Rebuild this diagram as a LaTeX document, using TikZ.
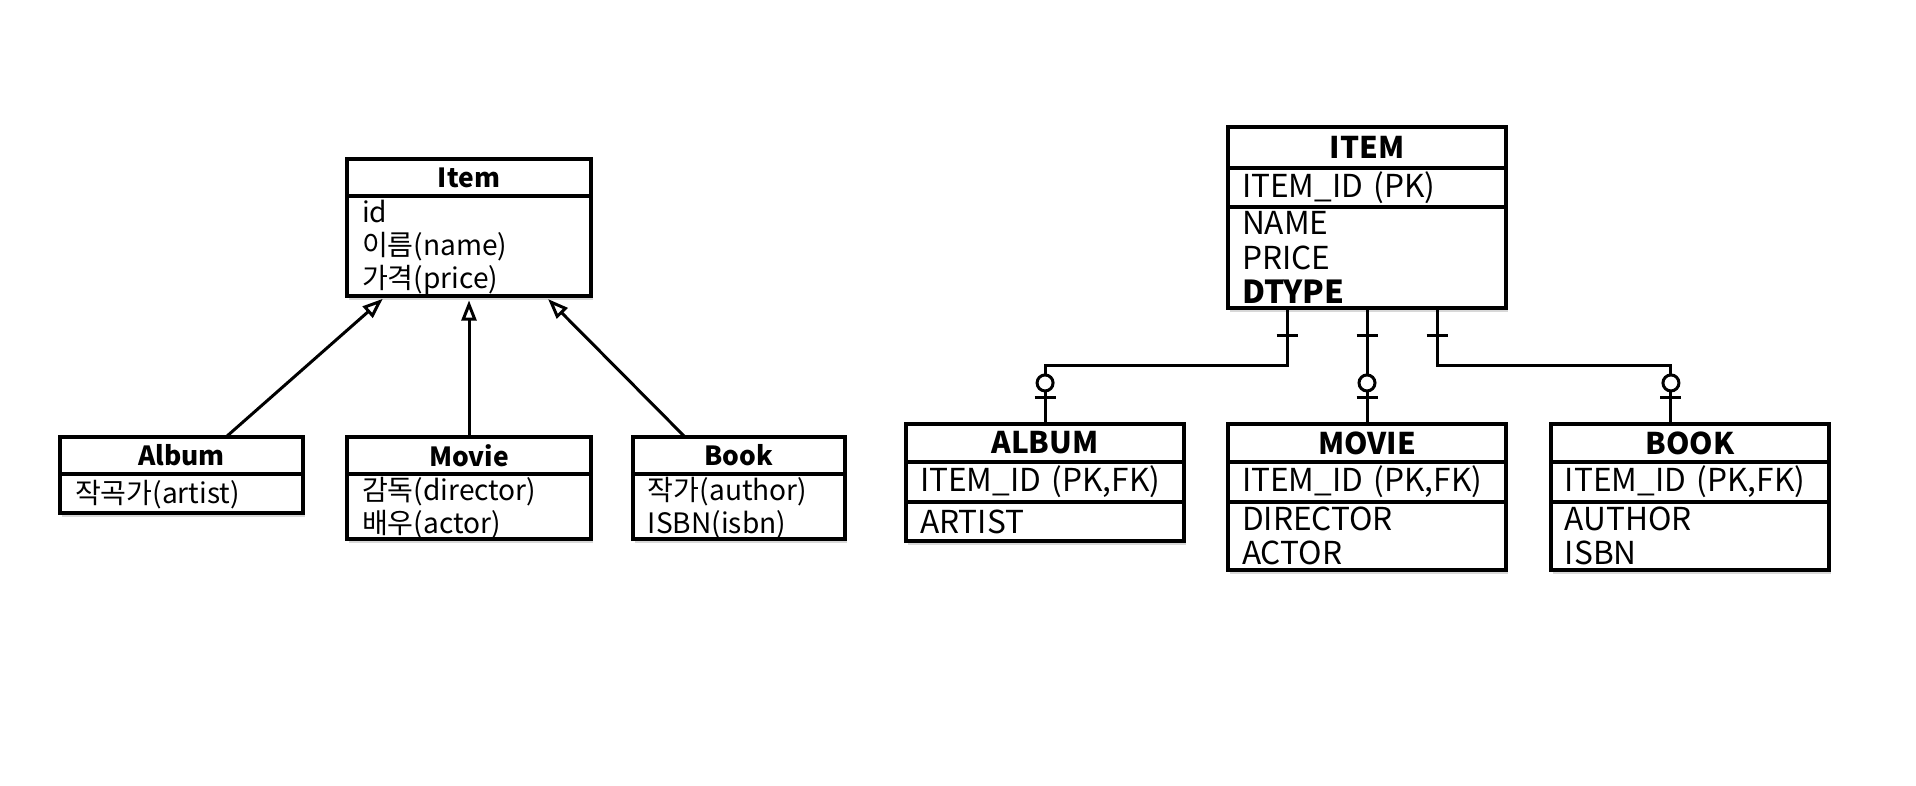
\documentclass[tikz,border=0pt]{standalone}
\usepackage{fontspec}
\setmainfont{Noto Sans CJK KR}
\usepackage{tikz}
\usetikzlibrary{
  arrows.meta,
  positioning,
  calc,
  shadows,
  decorations.markings
}
\tikzset{
  box/.style={
    draw, fill=white, line width=2pt, outer sep=0pt, inner sep=0pt,
    drop shadow={opacity=0.3, shadow xshift=1pt, shadow yshift=-2.5pt}
  },
  cls/.style={box, minimum height=0.74cm, font=\fontsize{15}{18}\selectfont\bfseries},
  clsattr/.style={box, inner xsep=0.3cm, align=left, font=\fontsize{16}{18.8}\selectfont,
    execute at begin node={\rule{0pt}{15pt}}},
  tbl/.style={box, minimum height=0.76cm, font=\fontsize{17}{20}\selectfont\bfseries},
  tblattr/.style={box, inner xsep=0.28cm, align=left, font=\fontsize{18}{19.4}\selectfont},
  inherit/.style={-{Triangle[open, length=11.5pt, width=8.5pt]}, line width=1.7pt, shorten >=2.5pt},
  relline/.style={line width=1.7pt},
  onebar/.style={postaction={decorate, decoration={markings,
    mark=at position 0.56cm with {\draw[line width=1.7pt] (0,-0.21cm) -- (0,0.21cm);}}}},
  zeroone/.style={postaction={decorate, decoration={markings,
    mark=at position -0.82cm with {\draw[line width=1.7pt, fill=white] (0,0) circle (0.16cm);},
    mark=at position -0.52cm with {\draw[line width=1.7pt] (0,-0.21cm) -- (0,0.21cm);}}}}
}

\begin{document}
\begin{tikzpicture}[x=0.02cm, y=-0.02cm]
  \useasboundingbox (0,0) rectangle (1916,786);
  \fill[white] (0,0) rectangle (1916,786);
  % class diagram
  \node[cls, minimum width=4.88cm, anchor=north] (item) at (469,159) {Item};
  \node[clsattr, text width=4.28cm, minimum height=2.0cm, below=0pt of item] (item-attr)
    {id\\이름(name)\\가격(price)};
  \node[cls, minimum width=4.88cm, below=2.82cm of item-attr] (movie) {Movie};
  \node[clsattr, text width=4.28cm, minimum height=1.3cm, below=0pt of movie] (movie-attr)
    {감독(director)\\배우(actor)};
  \node[cls, minimum width=4.86cm, left=0.88cm of movie.north west, anchor=north east] (album) {Album};
  \node[clsattr, text width=4.26cm, minimum height=0.78cm, below=0pt of album] (album-attr)
    {작곡가(artist)};
  \node[cls, minimum width=4.24cm, right=0.84cm of movie.north east, anchor=north west] (book) {Book};
  \node[clsattr, text width=3.64cm, minimum height=1.3cm, below=0pt of book] (book-attr)
    {작가(author)\\ISBN(isbn)};
  \draw[inherit] ($(album.north)+(44.5,0)$) -- ($(item-attr.south)+(-83,0)$);
  \draw[inherit] (movie.north) -- (item-attr.south);
  \draw[inherit] ($(book.north)+(-54,0)$) -- ($(item-attr.south)+(76,0)$);
  % tables
  \node[tbl, minimum width=5.56cm, minimum height=0.82cm, anchor=north] (tbl-item) at (1367,127) {ITEM};
  \node[tblattr, text width=5.0cm, minimum height=0.78cm, below=0pt of tbl-item] (tbl-item-pk)
    {ITEM\_ID (PK)};
  \node[tblattr, text width=5.0cm, minimum height=2.02cm, below=0pt of tbl-item-pk] (tbl-item-col)
    {NAME\\PRICE\\\textbf{DTYPE}};
  \node[tbl, minimum width=5.56cm, below=2.32cm of tbl-item-col] (tbl-movie) {MOVIE};
  \node[tblattr, text width=5.0cm, minimum height=0.8cm, below=0pt of tbl-movie] (tbl-movie-pk)
    {ITEM\_ID (PK,FK)};
  \node[tblattr, text width=5.0cm, minimum height=1.36cm, below=0pt of tbl-movie-pk] (tbl-movie-col)
    {DIRECTOR\\ACTOR};
  \node[tbl, minimum width=5.56cm, left=0.88cm of tbl-movie.north west, anchor=north east] (tbl-album) {ALBUM};
  \node[tblattr, text width=5.0cm, minimum height=0.8cm, below=0pt of tbl-album] (tbl-album-pk)
    {ITEM\_ID (PK,FK)};
  \node[tblattr, text width=5.0cm, minimum height=0.78cm, below=0pt of tbl-album-pk] (tbl-album-col)
    {ARTIST};
  \node[tbl, minimum width=5.56cm, right=0.9cm of tbl-movie.north east, anchor=north west] (tbl-book) {BOOK};
  \node[tblattr, text width=5.0cm, minimum height=0.8cm, below=0pt of tbl-book] (tbl-book-pk)
    {ITEM\_ID (PK,FK)};
  \node[tblattr, text width=5.0cm, minimum height=1.36cm, below=0pt of tbl-book-pk] (tbl-book-col)
    {AUTHOR\\ISBN};
  \draw[relline, onebar, zeroone] ($(tbl-item-col.south)+(-80,0)$) -- ++(0,58) -| (tbl-album.north);
  \draw[relline, onebar, zeroone] (tbl-item-col.south) -- (tbl-movie.north);
  \draw[relline, onebar, zeroone] ($(tbl-item-col.south)+(70,0)$) -- ++(0,58) -| ($(tbl-book.north)+(-19,0)$);
\end{tikzpicture}
\end{document}
